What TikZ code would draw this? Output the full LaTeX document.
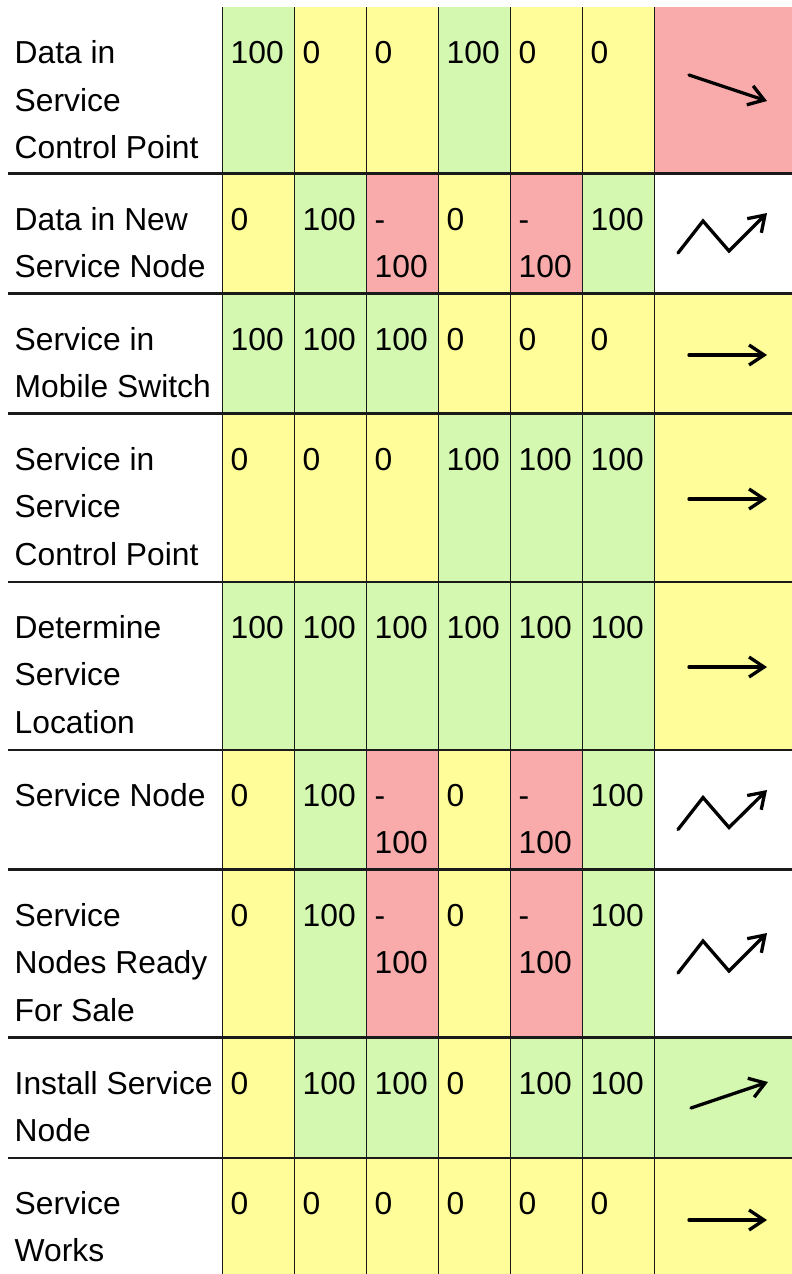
\documentclass[tikz,border=0pt]{standalone}
\usepackage{fontspec}
\setmainfont{Liberation Sans}
\usetikzlibrary{arrows.meta}
\definecolor{cellgreen}{RGB}{212,248,176}
\definecolor{cellyellow}{RGB}{255,253,153}
\definecolor{cellred}{RGB}{249,170,170}
\definecolor{gridline}{RGB}{26,26,26}
\tikzset{
  fillP/.style={fill=cellgreen},
  fillZ/.style={fill=cellyellow},
  fillM/.style={fill=cellred},
  fillW/.style={fill=white},
  cell/.style={anchor=north west,inner sep=0pt,align=left,font=\fontsize{31.8}{47.5}\selectfont},
  rowline/.style={draw=gridline,line width=2.4pt},
  colline/.style={draw=gridline,line width=1.6pt},
  trend/.style={->,line width=3.3pt,line cap=round,line join=miter},
}
\newcommand\valP{100}
\newcommand\valZ{0}
\newcommand\valM{-\\100}
\begin{document}
\begin{tikzpicture}[x=1pt,y=-1pt,>={Straight Barb[length=15pt,width=20pt]}]
    \useasboundingbox (0,0) rectangle (792,1274);
    %% cells
    \foreach \rtop/\rbot/\vals/\tr [count=\r] in {
        7/173.3/{P,Z,Z,P,Z,Z}/M,
        173.3/293.3/{Z,P,M,Z,M,P}/W,
        293.3/413.3/{P,P,P,Z,Z,Z}/Z,
        413.3/581.7/{Z,Z,Z,P,P,P}/Z,
        581.7/749.7/{P,P,P,P,P,P}/Z,
        749.7/869.3/{Z,P,M,Z,M,P}/W,
        869.3/1037.3/{Z,P,M,Z,M,P}/W,
        1037.3/1157.7/{Z,P,P,Z,P,P}/P,
        1157.7/1274/{Z,Z,Z,Z,Z,Z}/Z}
    {
        \foreach \c [count=\i] in \vals {
            \fill[fill\c] ({150.5+72*\i},\rtop) rectangle ({222.5+72*\i},\rbot);
            \node[cell] (v\r\i) at ({158.5+72*\i},\rtop+23.25) {\strut\csname val\c\endcsname};
        }
        \fill[fill\tr] (654.5,\rtop) rectangle (792,\rbot);
    }
    %% grid
    \foreach \y in {173.3,293.3,413.3,581.7,749.7,869.3,1037.3,1157.7}
        \draw[rowline] (8,\y) -- (792,\y);
    \foreach \x in {222.5,294.5,366.5,438.5,510.5,582.5,654.5}
        \draw[colline] (\x,7) -- (\x,1274);
    %% row labels
    \node[cell] (lbl1) at (14.5,30.25) {\strut Data in\\Service\\Control Point};
    \node[cell] (lbl2) at (14.5,196.55) {\strut Data in New\\Service Node};
    \node[cell] (lbl3) at (14.5,316.55) {\strut Service in\\Mobile Switch};
    \node[cell] (lbl4) at (14.5,436.55) {\strut Service in\\Service\\Control Point};
    \node[cell] (lbl5) at (14.5,604.95) {\strut Determine\\Service\\Location};
    \node[cell] (lbl6) at (14.5,772.95) {\strut Service Node};
    \node[cell] (lbl7) at (14.5,892.55) {\strut Service\\Nodes Ready\\For Sale};
    \node[cell] (lbl8) at (14.5,1060.55) {\strut Install Service\\Node};
    \node[cell] (lbl9) at (14.5,1180.95) {\strut Service\\Works};
    %% trends
    \draw[trend] (689,75) -- (767,101);
    \draw[trend] (678,253) -- (703,221) -- (729,251) -- (767,213);
    \draw[trend] (689,355) -- (767,355);
    \draw[trend] (689,499) -- (767,499);
    \draw[trend] (689,667) -- (767,667);
    \draw[trend] (678,829.5) -- (703,797.5) -- (729,827.5) -- (767,790);
    \draw[trend] (678,973) -- (703,941) -- (729,971) -- (767,933);
    \draw[trend] (691,1108) -- (768,1082);
    \draw[trend] (689,1220) -- (767,1220);
    %
\end{tikzpicture}
\end{document}
